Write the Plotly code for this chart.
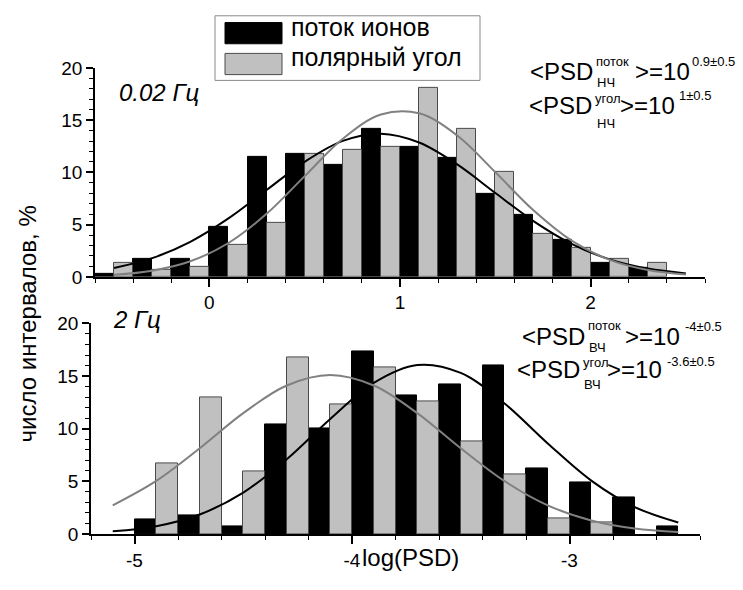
import plotly.graph_objects as go

W, H = 743, 590

# ---------------- data: top panel (0.02 Гц) ----------------
top_black_x = [-0.55, -0.35, -0.15, 0.05, 0.25, 0.45, 0.65, 0.85, 1.05, 1.25, 1.45, 1.65, 1.85, 2.05, 2.25]
top_black_y = [0.3, 1.75, 1.7, 4.8, 11.45, 11.75, 10.7, 14.2, 12.45, 11.4, 7.95, 5.9, 3.5, 1.35, 0.9]
top_gray_x = [-0.45, -0.25, -0.05, 0.15, 0.35, 0.55, 0.75, 0.95, 1.15, 1.35, 1.55, 1.75, 1.95, 2.15, 2.35]
top_gray_y = [1.3, 0.7, 1.0, 3.1, 5.2, 11.75, 12.15, 12.45, 18.05, 14.2, 10.05, 4.15, 2.75, 1.7, 1.3]
top_fit_x = [-0.5, -0.3, -0.1, 0.1, 0.3, 0.5, 0.7, 0.9, 1.1, 1.3, 1.5, 1.7, 1.9, 2.1, 2.3, 2.5]
top_fit_black = [0.85, 1.79, 3.35, 5.59, 8.31, 11.01, 13.01, 13.70, 12.86, 10.76, 8.03, 5.34, 3.16, 1.67, 0.79, 0.33]
top_fit_gray = [0.20, 0.59, 1.49, 3.24, 6.03, 9.64, 13.22, 15.53, 15.65, 13.53, 10.02, 6.37, 3.47, 1.62, 0.65, 0.22]
top_tickvals = [0, 1, 2]
top_ticktext = ["0", "1", "2"]

# ---------------- data: bottom panel (2 Гц) ----------------
bot_black_x = [-4.95, -4.75, -4.55, -4.35, -4.15, -3.95, -3.75, -3.55, -3.35, -3.15, -2.95, -2.75, -2.55]
bot_black_y = [1.38, 1.74, 0.7, 10.4, 10.0, 17.3, 13.2, 14.2, 16.0, 6.24, 4.89, 3.49, 0.73]
bot_gray_x = [-4.85, -4.65, -4.45, -4.25, -4.05, -3.85, -3.65, -3.45, -3.25, -3.05, -2.85]
bot_gray_y = [6.67, 13.0, 5.96, 16.8, 12.3, 15.8, 12.6, 8.8, 5.66, 1.44, 1.13]
bot_fit_x = [-5.1, -4.9, -4.7, -4.5, -4.3, -4.1, -3.9, -3.7, -3.5, -3.3, -3.1, -2.9, -2.7, -2.5]
bot_fit_black = [0.25, 0.74, 1.85, 3.93, 7.10, 10.93, 14.35, 16.05, 15.30, 12.42, 8.60, 5.07, 2.55, 1.09]
bot_fit_gray = [2.72, 5.04, 8.14, 11.48, 14.10, 15.1, 14.10, 11.48, 8.14, 5.04, 2.72, 1.28, 0.52, 0.19]
bot_tickvals = [-5, -4, -3]
bot_ticktext = ["-5", "-4", "-3"]

y_tickvals = [0, 5, 10, 15, 20]
y_ticktext = ["0", "5", "10", "15", "20"]

series_names = ["поток ионов", "полярный угол"]
BIN_W = 0.1

BLACK = "#000000"
GRAY = "#c0c0c0"
GRAY_EDGE = "#4a4a4a"
GRAY_LINE = "#808080"
FONT = "Arial, Liberation Sans, sans-serif"


def px(x):
    return x / W


def py(y):
    return 1 - y / H


fig = go.Figure()

# bars
fig.add_trace(go.Bar(x=top_black_x, y=top_black_y, width=BIN_W, name=series_names[0],
                     marker=dict(color=BLACK, line=dict(color=BLACK, width=1)),
                     xaxis="x", yaxis="y", showlegend=False))
fig.add_trace(go.Bar(x=top_gray_x, y=top_gray_y, width=BIN_W, name=series_names[1],
                     marker=dict(color=GRAY, line=dict(color=GRAY_EDGE, width=1)),
                     xaxis="x", yaxis="y", showlegend=False))
fig.add_trace(go.Bar(x=bot_black_x, y=bot_black_y, width=BIN_W, name=series_names[0],
                     marker=dict(color=BLACK, line=dict(color=BLACK, width=1)),
                     xaxis="x2", yaxis="y2", showlegend=False))
fig.add_trace(go.Bar(x=bot_gray_x, y=bot_gray_y, width=BIN_W, name=series_names[1],
                     marker=dict(color=GRAY, line=dict(color=GRAY_EDGE, width=1)),
                     xaxis="x2", yaxis="y2", showlegend=False))

# fitted curves
fig.add_trace(go.Scatter(x=top_fit_x, y=top_fit_black, mode="lines", line=dict(color=BLACK, width=2, shape="spline"),
                         xaxis="x", yaxis="y", showlegend=False))
fig.add_trace(go.Scatter(x=top_fit_x, y=top_fit_gray, mode="lines", line=dict(color=GRAY_LINE, width=2, shape="spline"),
                         xaxis="x", yaxis="y", showlegend=False))
fig.add_trace(go.Scatter(x=bot_fit_x, y=bot_fit_black, mode="lines", line=dict(color=BLACK, width=2, shape="spline"),
                         xaxis="x2", yaxis="y2", showlegend=False))
fig.add_trace(go.Scatter(x=bot_fit_x, y=bot_fit_gray, mode="lines", line=dict(color=GRAY_LINE, width=2, shape="spline"),
                         xaxis="x2", yaxis="y2", showlegend=False))

common_x = dict(showgrid=False, zeroline=False, showline=True, linecolor="black", linewidth=1.5,
                ticks="outside", ticklen=8, tickwidth=1.5, tickcolor="black",
                tickfont=dict(family=FONT, size=19, color="black"),
                minor=dict(dtick=0.2, ticks="outside", ticklen=4, tickwidth=1.2, tickcolor="black"))
common_y = dict(showgrid=False, zeroline=False, showline=True, linecolor="black", linewidth=1.5,
                ticks="outside", ticklen=7, tickwidth=1.5, tickcolor="black", range=[0, 20],
                tickvals=y_tickvals, ticktext=y_ticktext,
                tickfont=dict(family=FONT, size=19, color="black"),
                minor=dict(tick0=0, dtick=1, ticks="outside", ticklen=4, tickwidth=1.2, tickcolor="black"))

fig.update_layout(
    width=W, height=H, autosize=False,
    margin=dict(l=0, r=0, t=0, b=0),
    paper_bgcolor="white", plot_bgcolor="white",
    barmode="overlay", bargap=0,
    font=dict(family=FONT, color="black"),
    xaxis=dict(domain=[px(95), px(705)], range=[-0.6, 2.6], tickvals=top_tickvals, ticktext=top_ticktext,
               anchor="y", **common_x),
    yaxis=dict(domain=[py(276.7), py(60)], anchor="x", **common_y),
    xaxis2=dict(domain=[px(91), px(700)], range=[-5.2, -2.4], tickvals=bot_tickvals, ticktext=bot_ticktext,
                anchor="y2", **common_x),
    yaxis2=dict(domain=[py(543.3), py(325)], anchor="x2", **common_y),
)

annotations = []


def txt(x, y, text, size, anchor="left", italic=False):
    annotations.append(dict(x=px(x), y=py(y), xref="paper", yref="paper", text=text,
                            showarrow=False, xanchor=anchor, yanchor="middle",
                            font=dict(family=FONT, size=size, color="black",
                                      style="italic" if italic else "normal")))


MAIN = 24
SMALL = 13

# y axis title
annotations.append(dict(x=px(27), y=py(326), xref="paper", yref="paper",
                        text="число интервалов, %", textangle=-90, showarrow=False,
                        xanchor="center", yanchor="middle",
                        font=dict(family=FONT, size=24, color="black")))
# x axis title
txt(360, 568, "log(PSD)", 24)
# panel labels
txt(117, 86, "0.02 Гц", 24, italic=True)
txt(111, 321, "2 Гц", 24, italic=True)

# top-right formulas
txt(528, 64, "&lt;PSD", MAIN)
txt(594, 53, "поток", SMALL)
txt(595, 75, "НЧ", SMALL)
txt(633, 64, "&gt;=10", MAIN)
txt(690, 53, "0.9±0.5", SMALL)

txt(526.5, 99, "&lt;PSD", MAIN)
txt(593, 92, "угол", SMALL)
txt(595, 118, "НЧ", SMALL)
txt(618, 99, "&gt;=10", MAIN)
txt(676.5, 89, "1±0.5", SMALL)

# bottom-right formulas
txt(520, 338.5, "&lt;PSD", MAIN)
txt(586, 327, "поток", SMALL)
txt(586.5, 350, "ВЧ", SMALL)
txt(623, 338.5, "&gt;=10", MAIN)
txt(683, 328, "-4±0.5", SMALL)

txt(515, 373, "&lt;PSD", MAIN)
txt(581, 366, "угол", SMALL)
txt(581.5, 388, "ВЧ", SMALL)
txt(605, 373, "&gt;=10", MAIN)
txt(665, 364, "-3.6±0.5", SMALL)

# legend texts
txt(289, 18, series_names[0], 25)
txt(289, 49, series_names[1], 25)

shapes = [
    dict(type="rect", xref="paper", yref="paper", x0=px(215), x1=px(480), y0=py(73), y1=py(6),
         line=dict(color="#8a8a8a", width=1), fillcolor="white", layer="below"),
    dict(type="rect", xref="paper", yref="paper", x0=px(225), x1=px(282), y0=py(35), y1=py(13),
         line=dict(color=BLACK, width=1), fillcolor=BLACK),
    dict(type="rect", xref="paper", yref="paper", x0=px(225), x1=px(282), y0=py(67), y1=py(45),
         line=dict(color=GRAY_EDGE, width=1), fillcolor=GRAY),
]

fig.update_layout(annotations=annotations, shapes=shapes)

fig.write_html("out.html")
